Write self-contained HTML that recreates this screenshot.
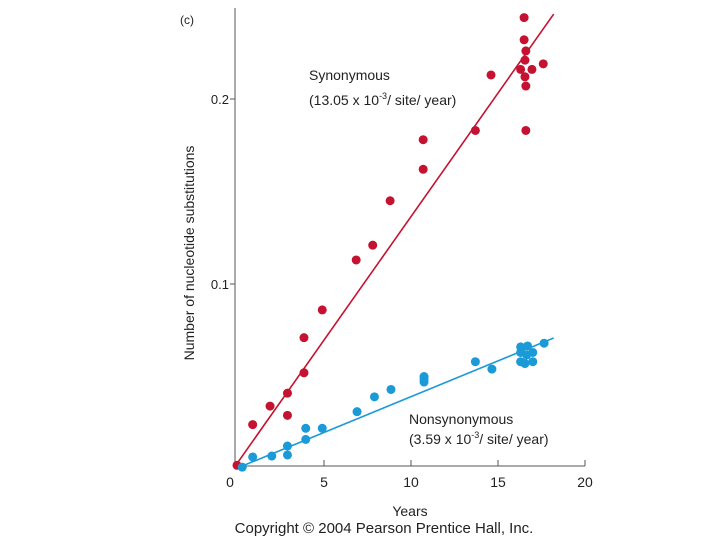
<!DOCTYPE html>
<html><head><meta charset="utf-8"><style>
html,body{margin:0;padding:0;background:#fff;}
svg{display:block;font-family:"Liberation Sans",sans-serif;}
</style></head><body>
<svg id="chart" width="720" height="540">
<g id="axes"></g>
<g id="marks"></g>
<text x="180" y="24" font-size="12" fill="#222">(c)</text>
<text x="309" y="80" font-size="14" fill="#222">Synonymous</text>
<text x="309" y="105" font-size="14" fill="#222">(13.05 x 10<tspan dy="-6" font-size="9">-3</tspan><tspan dy="6">/ site/ year)</tspan></text>
<text x="409" y="424" font-size="14" fill="#222">Nonsynonymous</text>
<text x="409" y="444" font-size="14" fill="#222">(3.59 x 10<tspan dy="-6" font-size="9">-3</tspan><tspan dy="6">/ site/ year)</tspan></text>
<text x="410" y="516" font-size="14" fill="#222" text-anchor="middle">Years</text>
<text transform="translate(194,253) rotate(-90)" font-size="14" fill="#222" text-anchor="middle">Number of nucleotide substitutions</text>
<text x="384" y="533" font-size="15" fill="#222" text-anchor="middle">Copyright © 2004 Pearson Prentice Hall, Inc.</text>
</svg>
<script>
const xTicks=[0,5,10,15,20];
const yTicks=[0.1,0.2];
const yTickLabels=["0.1","0.2"];
const synX=[0,0.9,1.9,2.9,2.9,3.85,3.85,4.9,6.85,7.8,8.8,10.7,10.7,13.7,14.6,16.5,16.5,16.6,16.55,16.3,16.55,16.6,16.95,17.6,16.6];
const synY=[0.002,0.024,0.034,0.041,0.029,0.052,0.071,0.086,0.113,0.121,0.145,0.162,0.178,0.183,0.213,0.244,0.232,0.226,0.221,0.216,0.212,0.207,0.216,0.219,0.183];
const nonX=[0.3,0.9,2.0,2.9,2.9,3.95,3.95,4.9,6.9,7.9,8.85,10.75,10.75,10.75,13.7,14.65,16.3,16.3,16.3,16.55,16.7,16.65,17.0,17.0,17.65];
const nonY=[0.001,0.0065,0.007,0.0076,0.0124,0.016,0.022,0.022,0.031,0.039,0.043,0.050,0.0486,0.047,0.058,0.054,0.066,0.063,0.058,0.057,0.0665,0.0616,0.063,0.058,0.068];
const synLineX=[-0.1,18.2];
const synLineY=[0.0016,0.2459];
const nonLineX=[0.3,18.2];
const nonLineY=[0.0016,0.0708];
const xs=v=>237+v*17.4;
const ys=v=>469-v*1850;
const NS='http://www.w3.org/2000/svg';
function mk(tag,attrs,parent){const e=document.createElementNS(NS,tag);for(const k in attrs)e.setAttribute(k,attrs[k]);parent.appendChild(e);return e;}
const axes=document.getElementById('axes'),marks=document.getElementById('marks');
let e=mk('line',{x1:235,y1:8,x2:235,y2:466,stroke:'#555','stroke-width':1},axes);


e=mk('line',{x1:235,y1:466,x2:xs(20),y2:466,stroke:'#555','stroke-width':1},axes);


xTicks.forEach(t=>{
 if(t>0){const tk=mk('line',{x1:xs(t),y1:466,x2:xs(t),y2:460,stroke:'#555'},axes);
 
 }
 const l=mk('text',{x:xs(t)-(t===0?7:0),y:487,'font-size':14,fill:'#222','text-anchor':'middle'},axes);l.textContent=t;
 
 
});
yTicks.forEach((t,i)=>{
 const tk=mk('line',{x1:230,y1:ys(t),x2:235,y2:ys(t),stroke:'#555'},axes);
 
 
 const l=mk('text',{x:229,y:ys(t)+5,'font-size':13,fill:'#222','text-anchor':'end'},axes);l.textContent=yTickLabels[i];
 
 
});
let ln=mk('line',{x1:xs(synLineX[0]),y1:ys(synLineY[0]),x2:xs(synLineX[1]),y2:ys(synLineY[1]),stroke:'#c41230','stroke-width':1.6},marks);


ln=mk('line',{x1:xs(nonLineX[0]),y1:ys(nonLineY[0]),x2:xs(nonLineX[1]),y2:ys(nonLineY[1]),stroke:'#1a9ad6','stroke-width':1.6},marks);


synX.forEach((x,i)=>{const c=mk('circle',{cx:xs(x),cy:ys(synY[i]),r:4.5,fill:'#c41230'},marks);
 
 });
nonX.forEach((x,i)=>{const c=mk('circle',{cx:xs(x),cy:ys(nonY[i]),r:4.5,fill:'#1a9ad6'},marks);
 
 });
</script>
</body></html>
